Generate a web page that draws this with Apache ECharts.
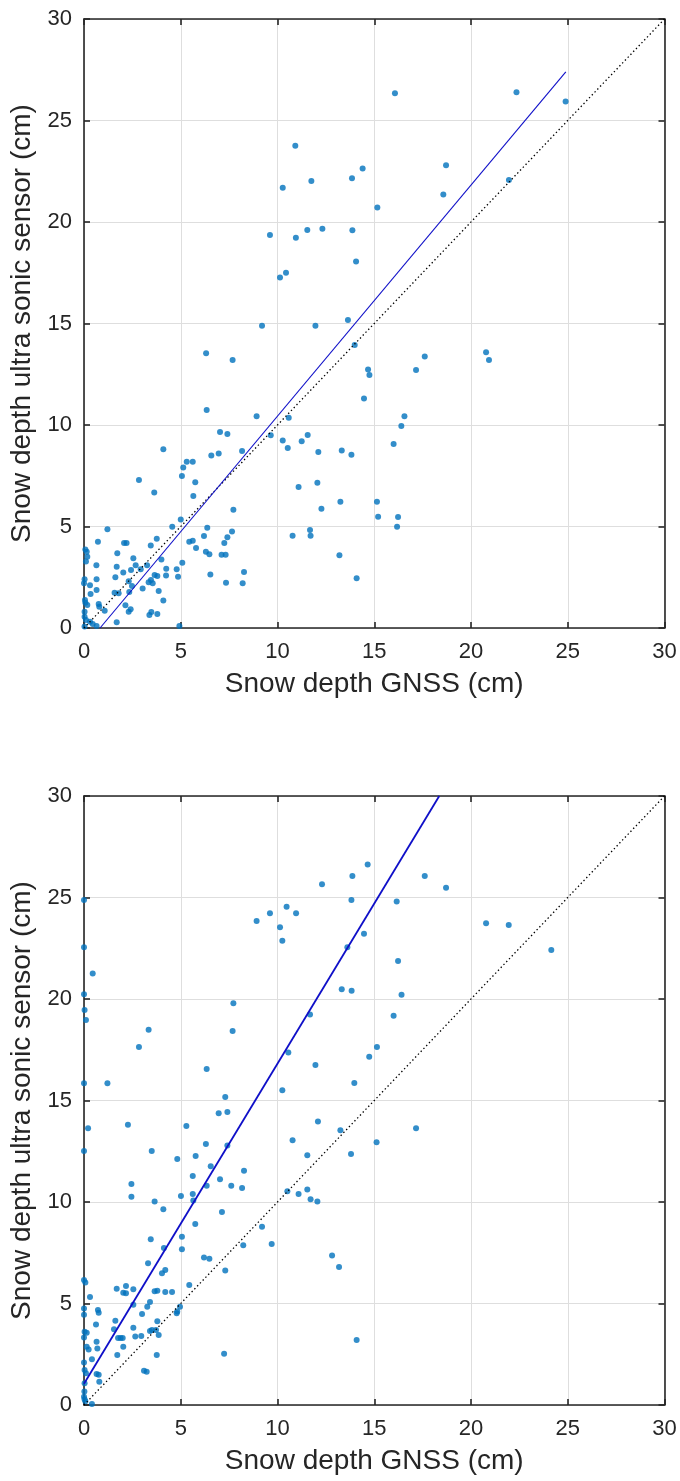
<!DOCTYPE html>
<html>
<head>
<meta charset="utf-8">
<script src="https://cdn.jsdelivr.net/npm/echarts@6/dist/echarts.min.js"></script>
<style>
html,body{margin:0;padding:0;background:#ffffff;}
#chart{width:680px;height:1481px;}
</style>
</head>
<body>
<div id="chart"></div>
<script>
// ---------- data (cm) ----------
const tickValues = [0, 5, 10, 15, 20, 25, 30];

// upper panel: GNSS snow depth vs ultra sonic sensor
const topGnss = [7.03,7.41,4.10,6.58,6.96,8.17,5.31,5.62,5.13,2.84,5.06,5.75,3.63,5.65,7.72,5.00,4.56,1.21,6.37,7.65,
  6.20,7.41,5.44,5.62,0.72,2.07,2.20,3.76,3.45,7.25,5.79,0.07,0.14,0.17,0.10,1.72,6.30,6.48,7.11,7.32,
  2.55,0.64,1.69,3.26,2.67,4.00,5.08,4.25,2.43,2.03,2.93,4.79,3.65,3.79,4.24,4.86,6.53,8.27,0.03,0.00,
  0.65,1.62,3.46,3.34,2.31,2.48,3.55,3.03,7.34,8.20,0.31,0.65,3.86,1.58,1.79,2.34,0.05,0.07,0.17,0.34,
  0.76,0.79,1.07,2.14,2.41,2.31,4.10,3.48,3.38,3.79,0.03,0.03,0.10,0.31,0.45,0.65,1.69,4.93,0.03,
  9.20,11.96,13.64,13.99,6.31,7.68,17.61,17.16,14.68,14.75,14.47,6.34,8.92,10.58,16.56,16.40,9.65,10.27,10.53,11.25,
  11.56,12.11,13.32,13.82,16.00,11.09,12.06,12.27,13.25,15.14,15.20,16.23,16.18,10.78,11.68,11.71,13.20,14.09,
  16.07,22.35,24.89,18.71,18.57,21.96,15.16,
  10.92,14.40,13.85,11.75,10.27,9.61,10.95,11.54,12.32,13.87,14.06,10.13,10.44,
  20.78,20.93];
const topSonic = [9.66,9.56,8.80,8.50,8.60,8.72,8.19,8.19,7.91,7.29,7.49,7.18,6.68,6.50,5.83,5.35,4.99,4.86,4.94,4.75,
  4.53,4.47,4.25,4.30,4.25,4.19,4.19,4.40,4.07,4.19,3.94,3.87,3.76,3.51,3.28,3.68,3.76,3.63,3.61,3.61,
  3.43,3.09,3.02,3.09,3.09,3.38,3.22,2.92,2.86,2.73,2.89,2.89,2.61,2.56,2.59,2.53,2.63,2.76,2.40,2.20,
  2.40,2.50,2.36,2.25,2.30,2.07,2.20,1.95,2.23,2.20,2.10,1.87,1.82,1.74,1.71,1.77,1.38,1.25,1.13,1.67,
  1.18,1.05,0.85,1.12,0.92,0.80,1.36,0.79,0.64,0.69,0.80,0.56,0.39,0.31,0.20,0.10,0.28,0.10,0.07,
  14.89,14.89,15.17,13.94,13.53,13.20,13.37,12.71,12.74,12.46,11.30,10.74,10.43,10.36,10.43,9.95,9.49,9.24,8.87,9.20,
  9.51,8.67,8.74,8.54,9.06,6.95,7.16,5.88,6.22,6.22,5.48,5.47,4.99,4.55,4.83,4.55,3.58,2.45,
  26.34,26.39,25.94,22.79,21.36,22.07,20.72,
  23.76,22.64,22.15,22.02,21.69,19.36,19.23,19.60,19.67,19.59,18.06,17.26,17.50,
  13.58,13.20];
const topFitGnss = [0.83, 24.9];
const topFitSonic = [0.0, 27.4];

// lower panel
const bottomGnss = [3.65,4.10,7.13,5.75,9.20,5.06,3.45,8.23,5.06,4.13,6.20,6.48,3.31,7.30,4.20,4.03,0.00,0.07,1.69,2.17,
  2.03,2.17,2.55,3.65,3.79,4.20,4.55,5.44,0.31,2.55,3.41,3.27,4.96,4.82,4.79,0.00,0.00,0.72,0.76,3.00,
  0.62,1.62,3.79,0.03,0.14,0.00,1.55,2.55,3.41,3.51,3.72,3.86,1.76,1.89,2.00,2.65,2.96,0.14,0.24,0.65,
  0.69,2.03,0.41,1.72,3.76,7.24,0.00,0.03,0.10,3.10,3.24,0.65,0.76,0.79,0.03,0.00,0.03,0.07,0.41,0.02,
  0.00,0.00,0.45,0.00,0.03,0.10,8.92,9.61,10.47,10.96,10.13,10.25,7.72,7.68,3.34,2.84,11.68,10.56,11.96,6.34,
  0.00,1.21,10.25,7.30,6.96,7.41,0.21,2.27,5.29,12.09,10.78,0.00,3.50,6.30,7.41,4.82,5.77,11.54,6.55,8.27,
  5.62,7.03,2.45,6.34,7.61,8.17,2.45,5.01,5.62,5.65,11.09,11.54,10.51,11.71,12.06,
  13.82,16.16,14.47,13.61,16.23,20.78,21.95,24.15,13.32,13.83,16.41,16.00,15.14,14.74,13.97,13.25,17.16,15.12,13.80,9.70,
  12.82,13.18,14.09,12.30,13.87,14.66,17.61,18.71];
const bottomSonic = [10.02,9.64,9.51,8.92,8.78,8.29,8.16,7.87,7.67,7.73,7.27,7.21,6.98,6.62,6.65,6.49,6.16,6.03,5.73,5.86,
  5.53,5.50,5.70,5.60,5.63,5.57,5.57,5.91,5.32,4.94,5.07,4.84,4.84,4.61,4.52,4.75,4.45,4.68,4.55,4.48,
  3.96,4.15,4.12,3.61,3.56,3.33,3.73,3.81,3.65,3.69,3.69,3.45,3.30,3.30,3.30,3.37,3.40,2.87,2.74,3.12,
  2.78,2.87,2.25,2.46,2.46,2.53,2.09,1.72,1.56,1.69,1.64,1.53,1.49,1.15,1.07,0.41,0.28,0.18,0.05,0.66,
  24.88,22.55,21.26,20.23,19.46,18.97,23.84,24.22,24.55,24.22,23.53,22.87,19.79,18.42,18.49,17.64,19.24,17.37,16.75,16.55,
  15.85,15.85,15.50,15.17,14.37,14.43,13.63,13.81,13.74,13.97,13.04,12.51,12.51,12.86,12.78,12.12,12.27,12.30,11.76,11.54,
  11.28,11.12,10.89,10.80,10.80,10.69,10.26,10.30,10.39,10.07,10.39,10.61,10.53,10.13,10.03,
  24.88,24.80,23.22,22.55,21.87,23.73,23.65,22.41,20.48,20.41,20.21,19.18,17.64,17.16,15.86,13.53,13.63,12.94,12.36,7.93,
  7.37,6.80,3.20,25.65,26.06,26.63,26.06,25.48];
const bottomFitGnss = [0.0, 18.36];
const bottomFitSonic = [1.05, 30.0];

const identityLine = [0, 30];

// ---------- helpers ----------
function zip(xs, ys) { return xs.map((x, i) => [x, ys[i]]); }

const FONT = '"Liberation Sans", Arial, Helvetica, sans-serif';
const INK = '#262626';
const GRIDC = '#dedede';

function mainX(gi) {
  return {
    type: 'value', gridIndex: gi, position: 'bottom',
    min: tickValues[0], max: tickValues[tickValues.length - 1], interval: 5,
    name: 'Snow depth GNSS (cm)', nameLocation: 'middle', nameGap: 42,
    nameTextStyle: { fontSize: 28, color: INK, fontFamily: FONT },
    axisLine: { show: true, onZero: false, lineStyle: { color: INK, width: 1.6 } },
    axisTick: { show: true, inside: true, length: 6, lineStyle: { color: INK, width: 1.6 } },
    axisLabel: { fontSize: 22, color: INK, margin: 13, fontFamily: FONT },
    splitLine: { show: true, lineStyle: { color: GRIDC, width: 1 } }
  };
}
function boxX(gi) {
  return {
    type: 'value', gridIndex: gi, position: 'top',
    min: tickValues[0], max: tickValues[tickValues.length - 1], interval: 5,
    axisLine: { show: true, onZero: false, lineStyle: { color: INK, width: 1.6 } },
    axisTick: { show: true, inside: true, length: 6, lineStyle: { color: INK, width: 1.6 } },
    axisLabel: { show: false }, splitLine: { show: false }
  };
}
function mainY(gi) {
  return {
    type: 'value', gridIndex: gi, position: 'left',
    min: tickValues[0], max: tickValues[tickValues.length - 1], interval: 5,
    name: 'Snow depth ultra sonic sensor (cm)', nameLocation: 'middle', nameGap: 46,
    nameTextStyle: { fontSize: 28, color: INK, fontFamily: FONT },
    axisLine: { show: true, onZero: false, lineStyle: { color: INK, width: 1.6 } },
    axisTick: { show: true, inside: true, length: 6, lineStyle: { color: INK, width: 1.6 } },
    axisLabel: { fontSize: 22, color: INK, margin: 12, fontFamily: FONT },
    splitLine: { show: true, lineStyle: { color: GRIDC, width: 1 } }
  };
}
function boxY(gi) {
  return {
    type: 'value', gridIndex: gi, position: 'right',
    min: tickValues[0], max: tickValues[tickValues.length - 1], interval: 5,
    axisLine: { show: true, onZero: false, lineStyle: { color: INK, width: 1.6 } },
    axisTick: { show: true, inside: true, length: 6, lineStyle: { color: INK, width: 1.6 } },
    axisLabel: { show: false }, splitLine: { show: false }
  };
}

function panelSeries(xi, yi, gx, gy, fx, fy, fitWidth) {
  return [
    { type: 'scatter', xAxisIndex: xi, yAxisIndex: yi, data: zip(gx, gy),
      symbol: 'circle', symbolSize: 6, itemStyle: { color: '#0072BD' }, silent: true, z: 2 },
    { type: 'line', xAxisIndex: xi, yAxisIndex: yi, data: zip(identityLine, identityLine),
      symbol: 'none', clip: true, silent: true, z: 3,
      lineStyle: { color: '#000000', width: 1.3, type: [1.4, 2.6] } },
    { type: 'line', xAxisIndex: xi, yAxisIndex: yi, data: zip(fx, fy),
      symbol: 'none', clip: true, silent: true, z: 4,
      lineStyle: { color: '#0F0FC8', width: fitWidth } }
  ];
}

const chart = echarts.init(document.getElementById('chart'), null, { renderer: 'canvas' });
chart.setOption({
  animation: false,
  backgroundColor: '#ffffff',
  grid: [
    { left: 84, top: 19, width: 580.5, height: 609 },
    { left: 84, top: 796, width: 580.5, height: 609 }
  ],
  xAxis: [mainX(0), boxX(0), mainX(1), boxX(1)],
  yAxis: [mainY(0), boxY(0), mainY(1), boxY(1)],
  series: [].concat(
    panelSeries(0, 0, topGnss, topSonic, topFitGnss, topFitSonic, 1.1),
    panelSeries(2, 2, bottomGnss, bottomSonic, bottomFitGnss, bottomFitSonic, 1.8)
  )
});
</script>
</body>
</html>
